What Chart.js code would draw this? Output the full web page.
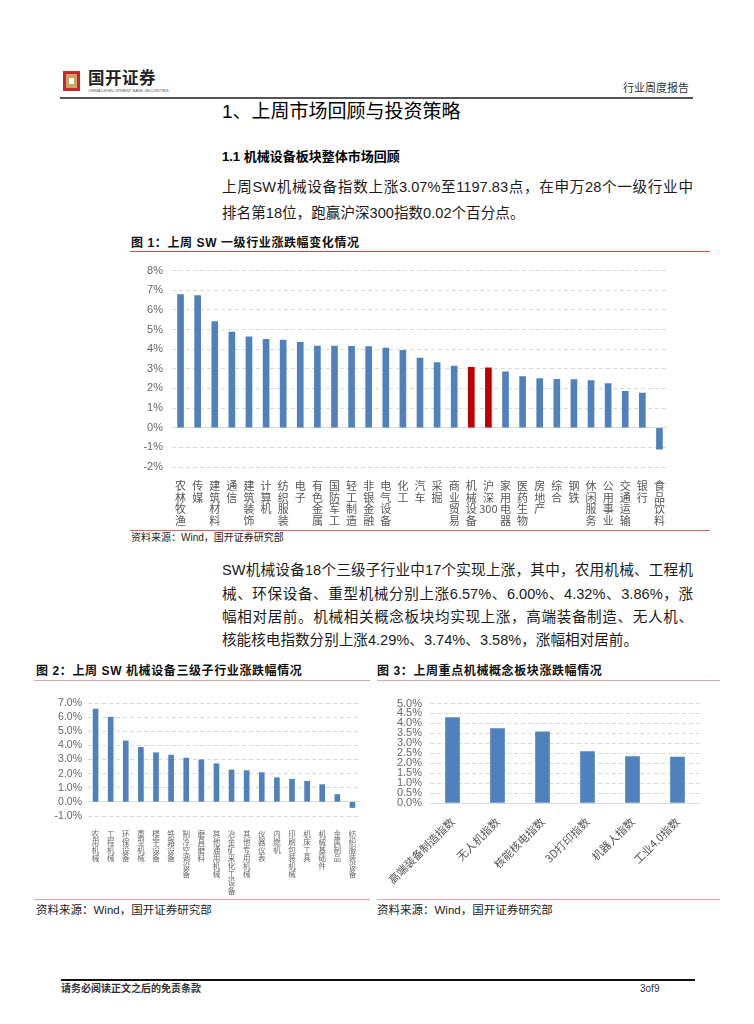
<!DOCTYPE html>
<html>
<head>
<meta charset="utf-8">
<script src="https://cdn.jsdelivr.net/npm/chart.js@4"></script>
<style>
	body { margin: 0; width: 754px; height: 1024px; background: #fff; position: relative; overflow: hidden;
		font-family: "Liberation Sans", "Noto Sans CJK SC", sans-serif; color: #1a1a1a; }
	.t { position: absolute; white-space: nowrap; }
	.line { position: absolute; }
	.para { position: absolute; left: 222px; width: 471px; font-size: 14.6px; line-height: 15px; white-space: nowrap; }
	.full { text-align: justify; text-align-last: justify; }
	.figTitle { font-size: 12px; line-height: 12px; font-weight: bold; letter-spacing: 0.6px; color: #111; }
	.src { color: #222; }
	canvas { position: absolute; }
</style>
</head>
<body>
<!-- header -->
<div class="line" style="left:63px;top:71px;width:17px;height:20px;background:#c8262b;"></div>
<div class="line" style="left:66px;top:74px;width:11px;height:14px;background:#c9a467;"></div>
<div class="line" style="left:69px;top:78px;width:5px;height:6px;background:#fff;"></div>
<div class="t" style="left:88px;top:70px;font-size:16.5px;line-height:17px;font-weight:bold;color:#222;letter-spacing:0.5px;">国开证券</div>
<div class="t" style="left:88px;top:89px;font-size:4px;line-height:4px;color:#555;">CHINA DEVELOPMENT BANK SECURITIES</div>
<div class="t" style="left:623px;top:82px;font-size:11px;line-height:12px;color:#333;">行业周度报告</div>
<div class="line" style="left:60px;top:97px;width:633px;height:2px;background:#555;"></div>

<div class="t" style="left:222px;top:102px;font-size:19px;line-height:20px;color:#000;">1、上周市场回顾与投资策略</div>
<div class="t" style="left:222px;top:150px;font-size:13px;line-height:14px;font-weight:bold;color:#000;">1.1 机械设备板块整体市场回顾</div>

<div class="para full" style="top:180px;">上周SW机械设备指数上涨3.07%至1197.83点，在申万28个一级行业中</div>
<div class="para" style="top:206px;">排名第18位，跑赢沪深300指数0.02个百分点。</div>

<!-- figure 1 -->
<div class="t figTitle" style="left:131px;top:237px;">图 1：上周 SW 一级行业涨跌幅变化情况</div>
<div class="line" style="left:130px;top:251px;width:580px;height:1px;background:#e04848;"></div>
<canvas id="industryChart" width="580" height="275" style="left:130px;top:255px;"></canvas>
<div class="line" style="left:130px;top:530px;width:580px;height:1px;background:#e06060;"></div>
<div class="t src" style="left:131px;top:532px;font-size:10px;line-height:11px;">资料来源：Wind，国开证券研究部</div>

<div class="para full" style="top:563px;">SW机械设备18个三级子行业中17个实现上涨，其中，农用机械、工程机</div>
<div class="para full" style="top:587px;">械、环保设备、重型机械分别上涨6.57%、6.00%、4.32%、3.86%，涨</div>
<div class="para full" style="top:610px;">幅相对居前。机械相关概念板块均实现上涨，高端装备制造、无人机、</div>
<div class="para" style="top:633px;">核能核电指数分别上涨4.29%、3.74%、3.58%，涨幅相对居前。</div>

<!-- figure 2 and 3 -->
<div class="t figTitle" style="left:36px;top:665px;">图 2：上周 SW 机械设备三级子行业涨跌幅情况</div>
<div class="line" style="left:34px;top:680px;width:336px;height:1px;background:#e8a3a3;"></div>
<div class="t figTitle" style="left:377px;top:665px;">图 3：上周重点机械概念板块涨跌幅情况</div>
<div class="line" style="left:377px;top:680px;width:343px;height:1px;background:#e8a3a3;"></div>

<canvas id="subIndustryChart" width="340" height="205" style="left:30px;top:690px;"></canvas>
<canvas id="conceptChart" width="340" height="205" style="left:380px;top:690px;"></canvas>

<div class="line" style="left:34px;top:899px;width:336px;height:1px;background:#e8a3a3;"></div>
<div class="t src" style="left:36px;top:904px;font-size:11.5px;line-height:12px;">资料来源：Wind，国开证券研究部</div>
<div class="line" style="left:377px;top:899px;width:343px;height:1px;background:#e8a3a3;"></div>
<div class="t src" style="left:377px;top:904px;font-size:11.5px;line-height:12px;">资料来源：Wind，国开证券研究部</div>

<!-- footer -->
<div class="line" style="left:61px;top:979px;width:634px;height:2px;background:#111;"></div>
<div class="t" style="left:61px;top:983px;font-size:10px;line-height:11px;font-weight:bold;color:#333;">请务必阅读正文之后的免责条款</div>
<div class="t" style="left:640px;top:983px;font-size:10px;line-height:11px;color:#333;">3of9</div>

<script>
// SW level-1 industries, weekly change (%)
const industryNames = [
	"农林牧渔", "传媒", "建筑材料", "通信", "建筑装饰", "计算机", "纺织服装", "电子",
	"有色金属", "国防军工", "轻工制造", "非银金融", "电气设备", "化工", "汽车", "采掘",
	"商业贸易", "机械设备", "沪深300", "家用电器", "医药生物", "房地产", "综合", "钢铁",
	"休闲服务", "公用事业", "交通运输", "银行", "食品饮料",
];
const industryChanges = [
	6.78, 6.73, 5.40, 4.87, 4.63, 4.50, 4.46, 4.35,
	4.16, 4.16, 4.14, 4.13, 4.06, 3.94, 3.54, 3.32,
	3.14, 3.07, 3.05, 2.84, 2.60, 2.50, 2.47, 2.45,
	2.40, 2.25, 1.85, 1.76, -1.09,
];
const highlightNames = ["机械设备", "沪深300"];

// SW machinery level-3 sub-industries (%)
const subNames = [
	"农用机械", "工程机械", "环保设备", "重型机械", "楼宇设备", "铁路设备",
	"制冷空调设备", "磨具磨料", "其他通用机械", "冶金矿采化工设备", "其他专用机械",
	"仪器仪表", "内燃机", "印刷包装机械", "机床工具", "机械基础件", "金属制品", "纺织服装设备",
];
const subChanges = [
	6.57, 6.00, 4.32, 3.86, 3.48, 3.31, 3.10, 2.98, 2.70, 2.26, 2.21,
	2.07, 1.71, 1.60, 1.46, 1.22, 0.52, -0.40,
];

// machinery concept indices (%)
const conceptNames = ["高端装备制造指数", "无人机指数", "核能核电指数", "3D打印指数", "机器人指数", "工业4.0指数"];
const conceptChanges = [4.29, 3.74, 3.58, 2.59, 2.33, 2.31];

const blue = "#4f81bd";
const red = "#c00000";
const gridColor = "#d9d9d9";
const tickColor = "#666666";
const latin = "'Liberation Sans', Arial, sans-serif";
const cjk = "'Noto Sans CJK SC', sans-serif";

// stack characters one per line, keep digit runs together
function vertical(name) {
	return name.match(/\d+|./g);
}

function zeroSolid(ctx) {
	return ctx.tick && ctx.tick.value === 0 ? [] : [4, 3];
}

//////////////////////////////// Figure 1

new Chart(document.getElementById("industryChart"), {
	type: "bar",
	data: {
		labels: industryNames.map(vertical),
		datasets: [
			{
				data: industryChanges,
				backgroundColor: industryNames.map((n) => (highlightNames.includes(n) ? red : blue)),
				barThickness: 6,
			},
		],
	},
	options: {
		responsive: false,
		animation: false,
		devicePixelRatio: 1,
		layout: { padding: { top: 12, right: 42, bottom: 0, left: 0 } },
		plugins: { legend: { display: false }, tooltip: { enabled: false } },
		scales: {
			x: {
				grid: { display: false },
				border: { display: false },
				ticks: {
					autoSkip: false,
					maxRotation: 0,
					minRotation: 0,
					padding: 5,
					color: "#555",
					font: { family: cjk, size: 11, lineHeight: 1.06 },
				},
				afterFit: (scale) => { scale.height = 63; },
			},
			y: {
				min: -2,
				max: 8,
				grid: { color: gridColor, drawTicks: false },
				border: { display: false, dash: zeroSolid },
				ticks: {
					stepSize: 1,
					autoSkip: false,
					padding: 9,
					color: tickColor,
					font: { family: latin, size: 11 },
					callback: (v) => v + "%",
				},
				afterFit: (scale) => { scale.width = 42; },
			},
		},
	},
});

//////////////////////////////// Figure 2

new Chart(document.getElementById("subIndustryChart"), {
	type: "bar",
	data: {
		labels: subNames.map(vertical),
		datasets: [{ data: subChanges, backgroundColor: blue, barThickness: 5 }],
	},
	options: {
		responsive: false,
		animation: false,
		devicePixelRatio: 1,
		layout: { padding: { top: 13, right: 10, bottom: 0, left: 0 } },
		plugins: { legend: { display: false }, tooltip: { enabled: false } },
		scales: {
			x: {
				grid: { display: false },
				border: { display: false },
				ticks: {
					autoSkip: false,
					maxRotation: 0,
					minRotation: 0,
					padding: 6,
					color: "#666",
					font: { family: cjk, size: 7.5, lineHeight: 1.08 },
				},
				afterFit: (scale) => { scale.height = 79; },
			},
			y: {
				min: -1,
				max: 7,
				grid: { color: gridColor, drawTicks: false },
				border: { display: false, dash: zeroSolid },
				ticks: {
					stepSize: 1,
					autoSkip: false,
					padding: 6,
					color: tickColor,
					font: { family: latin, size: 10.5 },
					callback: (v) => v.toFixed(1) + "%",
				},
				afterFit: (scale) => { scale.width = 58; },
			},
		},
	},
});

//////////////////////////////// Figure 3

new Chart(document.getElementById("conceptChart"), {
	type: "bar",
	data: {
		labels: conceptNames,
		datasets: [{ data: conceptChanges, backgroundColor: blue, barThickness: 14 }],
	},
	options: {
		responsive: false,
		animation: false,
		devicePixelRatio: 1,
		layout: { padding: { top: 12, right: 20, bottom: 0, left: 0 } },
		plugins: { legend: { display: false }, tooltip: { enabled: false } },
		scales: {
			x: {
				grid: { display: false },
				border: { display: false },
				ticks: {
					autoSkip: false,
					maxRotation: 45,
					minRotation: 45,
					padding: 4,
					color: "#555",
					font: { family: cjk, size: 11 },
				},
				afterFit: (scale) => { scale.height = 92; },
			},
			y: {
				min: 0,
				max: 5,
				grid: { color: gridColor, drawTicks: false },
				border: { display: false, dash: zeroSolid },
				ticks: {
					stepSize: 0.5,
					autoSkip: false,
					padding: 8,
					color: tickColor,
					font: { family: latin, size: 11, lineHeight: 1 },
					callback: (v) => v.toFixed(1) + "%",
				},
				afterFit: (scale) => { scale.width = 50; },
			},
		},
	},
});
</script>
</body>
</html>
